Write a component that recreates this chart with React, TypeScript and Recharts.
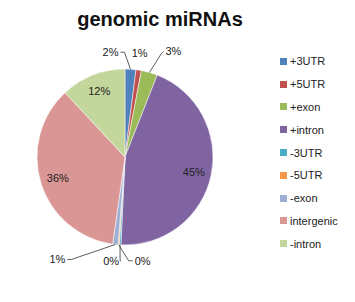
import React from 'react';
import { PieChart, Pie, Cell, Legend } from 'recharts';

const categories = ['+3UTR', '+5UTR', '+exon', '+intron', '-3UTR', '-5UTR', '-exon', 'intergenic', '-intron'];
const shares = [2, 1, 3, 45, 0.3, 0.2, 1, 36, 12];
const colors = ['#4F81BD', '#C0504D', '#9BBB59', '#8064A2', '#4BACC6', '#F79646', '#9DB0D4', '#D99694', '#C3D69B'];

const data = categories.map((name, i) => ({ name, value: shares[i] }));

// where the outside labels sit, relative to the slice edge (style only)
const outsideOffsets: Record<number, [number, number, number, number]> = {
  // dx, dy of text, elbow dx, elbow dy
  0: [-12, -17, -6, -17],
  1: [1, -17, 4, -8],
  2: [16, -21, 12, -19],
  4: [-1, 16, 0, 16],
  5: [16, 16, 10, 16],
  6: [-50, 15, -44, 15],
};

const RAD = Math.PI / 180;

const renderLabel = (props: any) => {
  const { cx, cy, midAngle, outerRadius, percent, index } = props;
  const text = `${Math.round(percent * 100)}%`;
  const cos = Math.cos(-midAngle * RAD);
  const sin = Math.sin(-midAngle * RAD);
  if (percent > 0.08) {
    const r = outerRadius * 0.8;
    return (
      <text x={cx + r * cos} y={cy + r * sin} textAnchor="middle" dominantBaseline="central" fontSize={11} fill="#222">
        {text}
      </text>
    );
  }
  const ex = cx + outerRadius * cos;
  const ey = cy + outerRadius * sin;
  const off = outsideOffsets[index] || [0, 0, 0, 0];
  const tx = ex + off[0];
  const ty = ey + off[1];
  const lx = ex + off[2];
  const ly = ey + off[3];
  const anchor = off[0] < -4 ? 'end' : off[0] > 4 ? 'start' : off[0] === -1 ? 'end' : 'middle';
  const endX = anchor === 'end' ? tx + 2 : anchor === 'start' ? tx - 2 : tx;
  return (
    <g>
      {index !== 1 && (
        <polyline points={`${ex},${ey} ${lx},${ly} ${endX},${ty}`} fill="none" stroke="#333" strokeWidth={0.8} />
      )}
      <text x={tx} y={ty} textAnchor={anchor} dominantBaseline="central" fontSize={11} fill="#222">
        {text}
      </text>
    </g>
  );
};

const renderLegend = (props: any) => {
  const payload = [...(props.payload || [])].sort(
    (a: any, b: any) => categories.indexOf(a.value) - categories.indexOf(b.value)
  );
  return (
    <div>
      {payload.map((entry: any, i: number) => (
        <div key={i} style={{ display: 'flex', alignItems: 'center', height: 22.8, fontSize: 11, color: '#222' }}>
          <span style={{ display: 'inline-block', width: 7, height: 7, background: entry.color, marginRight: 3 }} />
          {entry.value}
        </div>
      ))}
    </div>
  );
};

export default function App() {
  return (
    <div style={{ position: 'absolute', left: 0, top: 0, width: 355, height: 302, background: '#fff', fontFamily: '"Liberation Sans", Arial, sans-serif' }}>
      <div style={{ position: 'absolute', left: 0, top: 8, width: 320, textAlign: 'center', fontSize: 20, fontWeight: 'bold', color: '#111' }}>
        genomic miRNAs
      </div>
      <PieChart width={355} height={302}>
        <Pie
          data={data}
          dataKey="value"
          nameKey="name"
          cx={120}
          cy={152}
          outerRadius={88}
          startAngle={90}
          endAngle={-270}
          stroke="#fff"
          strokeWidth={0.5}
          label={renderLabel}
          labelLine={false}
          isAnimationActive={false}
        >
          {data.map((entry, i) => (
            <Cell key={entry.name} fill={colors[i]} />
          ))}
        </Pie>
        <Legend
          layout="vertical"
          align="right"
          verticalAlign="top"
          itemSorter={null as any}
          content={renderLegend}
          wrapperStyle={{ position: 'absolute', left: 280, top: 50, width: 75 }}
        />
      </PieChart>
    </div>
  );
}
